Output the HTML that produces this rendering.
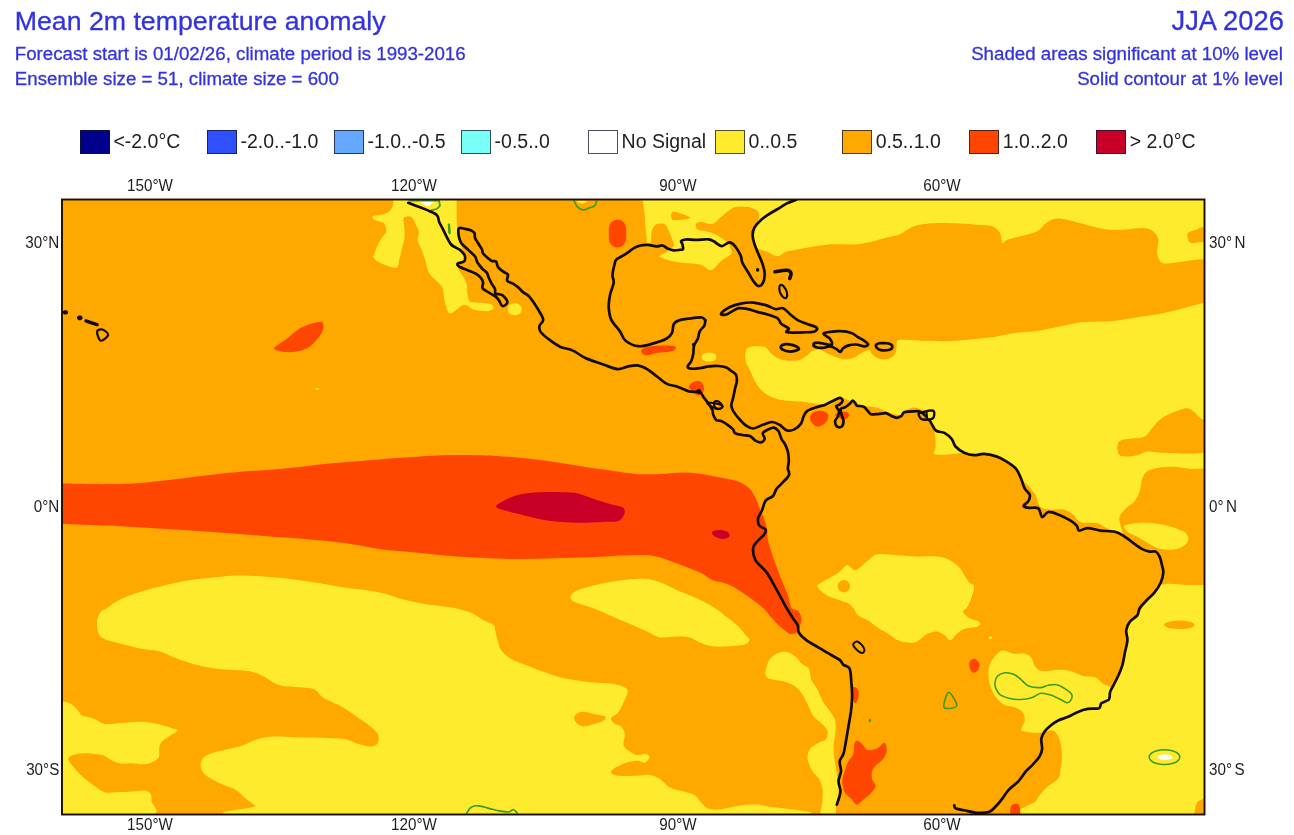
<!DOCTYPE html>
<html><head><meta charset="utf-8"><title>Mean 2m temperature anomaly</title>
<style>
html,body{margin:0;padding:0;background:#fff;}
body{width:1294px;height:835px;position:relative;overflow:hidden;font-family:"Liberation Sans",sans-serif;}
.t{position:absolute;color:#3232e0;white-space:nowrap;-webkit-text-stroke:0.3px #3232e0;}
.sw{position:absolute;top:129.6px;width:28px;height:22.6px;border:1px solid rgba(20,20,40,.75);box-sizing:content-box;}
.lt{position:absolute;top:128.7px;font-size:19.5px;line-height:24px;color:#1e1e1e;white-space:nowrap;}
.ax{position:absolute;font-size:16px;line-height:18px;transform:scaleX(0.95);color:#1e1e1e;white-space:nowrap;}
#wrap{position:absolute;left:0;top:0;width:1294px;height:835px;filter:blur(0.45px);}
</style></head><body><div id="wrap">
<div class="t" style="left:14.8px;top:5.2px;font-size:26.7px;line-height:32px">Mean 2m temperature anomaly</div>
<div class="t" style="left:14.8px;top:43.2px;font-size:18.7px;line-height:22px">Forecast start is 01/02/26, climate period is 1993-2016</div>
<div class="t" style="left:14.8px;top:68.2px;font-size:18.7px;line-height:22px">Ensemble size = 51, climate size = 600</div>
<div class="t" style="right:10.2px;top:5.0px;font-size:27.3px;line-height:32px">JJA 2026</div>
<div class="t" style="right:11.2px;top:42.9px;font-size:18.7px;line-height:22px">Shaded areas significant at 10% level</div>
<div class="t" style="right:11.2px;top:67.9px;font-size:18.7px;line-height:22px">Solid contour at 1% level</div>
<div class="sw" style="left:79.8px;background:#00008c"></div><div class="lt" style="left:113.4px">&lt;-2.0°C</div>
<div class="sw" style="left:206.8px;background:#3050ff"></div><div class="lt" style="left:240.4px">-2.0..-1.0</div>
<div class="sw" style="left:333.9px;background:#64a8ff"></div><div class="lt" style="left:367.5px">-1.0..-0.5</div>
<div class="sw" style="left:460.9px;background:#78fff8"></div><div class="lt" style="left:494.6px">-0.5..0</div>
<div class="sw" style="left:588.0px;background:#ffffff"></div><div class="lt" style="left:621.6px">No Signal</div>
<div class="sw" style="left:715.0px;background:#ffeb2d"></div><div class="lt" style="left:748.6px">0..0.5</div>
<div class="sw" style="left:842.1px;background:#ffa800"></div><div class="lt" style="left:875.7px">0.5..1.0</div>
<div class="sw" style="left:969.1px;background:#ff4600"></div><div class="lt" style="left:1002.8px">1.0..2.0</div>
<div class="sw" style="left:1096.2px;background:#c80028"></div><div class="lt" style="left:1129.8px">&gt; 2.0°C</div>
<div class="ax" style="left:110.3px;top:177.2px;width:80px;text-align:center;transform-origin:50% 50%">150°W</div>
<div class="ax" style="left:110.3px;top:816.4px;width:80px;text-align:center;transform-origin:50% 50%">150°W</div>
<div class="ax" style="left:374.1px;top:177.2px;width:80px;text-align:center;transform-origin:50% 50%">120°W</div>
<div class="ax" style="left:374.1px;top:816.4px;width:80px;text-align:center;transform-origin:50% 50%">120°W</div>
<div class="ax" style="left:637.9px;top:177.2px;width:80px;text-align:center;transform-origin:50% 50%">90°W</div>
<div class="ax" style="left:637.9px;top:816.4px;width:80px;text-align:center;transform-origin:50% 50%">90°W</div>
<div class="ax" style="left:901.7px;top:177.2px;width:80px;text-align:center;transform-origin:50% 50%">60°W</div>
<div class="ax" style="left:901.7px;top:816.4px;width:80px;text-align:center;transform-origin:50% 50%">60°W</div>
<div class="ax" style="left:0;width:59.3px;text-align:right;transform-origin:100% 50%;top:233.7px">30°N</div>
<div class="ax" style="left:1208.6px;transform-origin:0 50%;top:233.7px">30°<span style="margin-left:2.6px"></span>N</div>
<div class="ax" style="left:0;width:59.3px;text-align:right;transform-origin:100% 50%;top:497.5px">0°N</div>
<div class="ax" style="left:1208.6px;transform-origin:0 50%;top:497.5px">0°<span style="margin-left:2.6px"></span>N</div>
<div class="ax" style="left:0;width:59.3px;text-align:right;transform-origin:100% 50%;top:761.3px">30°S</div>
<div class="ax" style="left:1208.6px;transform-origin:0 50%;top:761.3px">30°<span style="margin-left:2.6px"></span>S</div>
<svg width="1294" height="835" viewBox="0 0 1294 835" style="position:absolute;left:0;top:0">
<defs><clipPath id="mapclip"><rect x="62.0" y="199.5" width="1142.5" height="615.0"/></clipPath></defs>
<g clip-path="url(#mapclip)">
<rect x="62.0" y="199.5" width="1142.5" height="615.0" fill="#ffa800"/>
<path d="M393.5,200.9C393.3,202.7 393.1,205.3 392.3,207.1C391.4,209.0 390.2,210.8 388.5,212.1C386.9,213.3 384.8,213.9 382.4,214.5C379.9,215.2 375.3,215.1 373.7,215.8C372.2,216.5 371.9,217.8 373.1,218.9C374.3,219.9 379.2,221.0 381.1,222.0C383.1,222.9 384.0,222.8 384.8,224.4C385.7,226.1 386.5,229.8 386.1,231.9C385.7,233.9 383.8,234.5 382.4,236.8C380.9,239.1 378.8,242.6 377.4,245.5C376.1,248.3 374.9,252.1 374.3,254.1C373.7,256.2 372.8,256.4 373.7,257.8C374.6,259.3 376.2,261.1 379.9,262.8C383.6,264.4 392.7,268.5 396.0,267.7C399.3,266.9 398.6,261.1 399.7,257.8C400.7,254.5 401.3,251.4 402.1,247.9C403.0,244.4 404.3,240.7 404.6,236.8C404.9,232.9 404.2,227.5 404.0,224.4C403.8,221.3 402.9,219.6 403.4,218.3C403.9,216.9 405.7,216.5 407.1,216.4C408.5,216.3 410.6,216.3 412.0,217.6C413.5,219.0 414.6,222.1 415.7,224.4C416.9,226.8 418.5,229.2 418.8,231.9C419.1,234.5 417.1,237.4 417.6,240.5C418.1,243.6 420.6,246.9 421.9,250.4C423.3,253.9 424.6,258.0 425.6,261.5C426.7,265.0 426.7,268.5 428.1,271.4C429.6,274.3 432.0,276.4 434.3,278.8C436.6,281.3 440.1,283.8 441.7,286.3C443.4,288.7 444.0,293.1 444.2,293.7C444.4,294.3 442.8,288.1 443.1,290.0C443.3,291.8 444.3,300.9 445.5,304.8C446.8,308.7 447.4,313.5 450.5,313.5C453.6,313.5 460.2,305.4 464.1,304.8C468.0,304.2 469.9,308.7 474.0,309.8C478.1,310.8 485.5,311.4 488.8,311.0C492.1,310.6 493.8,308.5 493.8,307.3C493.8,306.0 492.1,304.4 488.8,303.6C485.5,302.7 477.3,303.0 474.0,302.3C470.7,301.7 470.3,302.3 469.0,299.9C467.8,297.4 466.8,289.1 466.6,287.5C466.3,285.9 467.9,291.2 467.7,290.0C467.5,288.7 466.7,283.4 465.2,280.1C463.8,276.8 460.2,272.7 459.0,270.2C457.9,267.7 457.6,266.7 458.4,265.2C459.2,263.8 462.7,262.9 464.0,261.5C465.2,260.2 465.8,258.5 465.8,257.2C465.8,255.9 464.8,255.5 464.0,253.5C463.1,251.5 461.8,247.8 460.9,245.5C460.0,243.1 459.0,241.5 458.4,239.3C457.9,237.0 457.8,234.9 457.5,231.9C457.3,228.8 457.0,225.9 456.8,220.7C456.6,215.6 456.6,205.0 456.6,200.9C456.5,196.9 467.0,197.2 456.5,196.5C446.0,195.8 404.0,195.8 393.5,196.5C383.0,197.2 393.7,199.2 393.5,200.9Z" fill="#ffeb2d"/>
<path d="M521.8,309.3C521.8,310.3 521.4,311.4 520.9,312.3C520.3,313.2 519.3,314.0 518.3,314.5C517.3,315.0 516.0,315.3 514.8,315.3C513.6,315.3 512.3,315.0 511.3,314.5C510.3,314.0 509.3,313.2 508.7,312.3C508.2,311.4 507.8,310.3 507.8,309.3C507.8,308.3 508.2,307.2 508.7,306.3C509.3,305.4 510.3,304.6 511.3,304.1C512.3,303.6 513.6,303.3 514.8,303.3C516.0,303.3 517.3,303.6 518.3,304.1C519.3,304.6 520.3,305.4 520.9,306.3C521.4,307.2 521.8,308.3 521.8,309.3Z" fill="#ffeb2d"/>
<path d="M642.8,200.9C643.2,204.0 644.3,210.2 644.7,214.5C645.1,218.9 645.0,223.2 645.3,226.9C645.6,230.6 646.1,233.8 646.6,236.8C647.0,239.8 646.0,241.7 647.8,244.8C649.5,247.9 652.5,252.5 657.1,255.4C661.7,258.2 668.5,260.3 675.6,261.8C682.8,263.4 693.9,263.2 699.8,264.6C705.6,266.0 707.3,270.8 710.9,270.2C714.4,269.6 717.7,263.7 721.1,260.9C724.5,258.1 729.9,256.0 731.3,253.5C732.7,251.0 730.0,247.9 729.4,246.1C728.8,244.2 730.4,244.5 727.6,242.4C724.8,240.2 717.7,235.3 712.7,233.1C707.8,230.9 700.7,230.9 697.9,229.4C695.1,227.8 695.4,225.1 696.0,223.8C696.7,222.6 698.8,222.0 701.6,222.0C704.4,222.0 709.0,225.1 712.7,223.8C716.4,222.6 720.2,217.3 723.9,214.5C727.6,211.8 731.0,208.4 735.0,207.1C739.0,205.9 744.3,206.5 748.0,207.1C751.7,207.7 755.4,209.3 757.2,210.8C759.1,212.4 759.3,214.2 759.1,216.4C758.9,218.6 757.4,221.3 756.3,223.8C755.2,226.3 753.2,228.8 752.6,231.2C752.0,233.7 751.8,235.9 752.6,238.7C753.4,241.4 754.9,245.8 757.2,247.9C759.6,250.1 763.1,250.3 766.5,251.6C769.9,253.0 774.3,256.3 777.7,256.3C781.1,256.3 782.3,253.0 786.9,251.6C791.6,250.3 798.4,249.1 805.5,247.9C812.6,246.8 820.5,245.3 829.6,244.6C838.7,243.9 849.9,245.1 860.0,243.9C870.1,242.6 883.4,238.4 890.0,236.8C896.6,235.2 896.2,236.0 899.9,234.3C903.6,232.7 907.7,228.7 912.3,226.9C916.8,225.1 920.5,224.3 927.1,223.7C933.7,223.1 942.3,223.0 951.8,223.2C961.3,223.4 977.0,224.6 984.0,225.2C991.0,225.8 991.2,225.6 993.9,226.9C996.5,228.2 998.6,230.4 1000.0,233.1C1001.5,235.8 1001.1,242.0 1002.5,243.0C1004.0,244.0 1004.4,240.7 1008.7,239.3C1013.0,237.8 1023.5,235.8 1028.5,234.3C1033.4,232.9 1035.5,232.5 1038.4,230.6C1041.3,228.8 1042.9,225.2 1045.8,223.2C1048.7,221.2 1052.0,219.3 1055.7,218.8C1059.4,218.2 1062.7,218.9 1068.1,220.0C1073.4,221.1 1081.2,223.6 1087.8,225.2C1094.4,226.7 1101.0,228.7 1107.6,229.4C1114.2,230.1 1121.6,229.6 1127.4,229.4C1133.2,229.2 1138.1,227.9 1142.2,228.1C1146.4,228.4 1149.5,228.8 1152.1,230.6C1154.8,232.5 1157.5,235.6 1158.3,239.3C1159.1,243.0 1156.5,249.0 1157.1,252.9C1157.7,256.8 1159.1,261.1 1162.0,262.8C1164.9,264.4 1169.4,263.2 1174.4,262.8C1179.3,262.4 1186.7,260.9 1191.7,260.3C1196.7,259.7 1201.9,259.3 1204.6,259.1C1207.2,258.8 1207.0,269.4 1207.5,259.0C1208.0,248.6 1301.6,206.9 1207.5,196.5C1113.4,186.1 736.9,195.8 642.8,196.5C548.7,197.2 642.5,197.9 642.8,200.9Z" fill="#ffeb2d"/>
<path d="M745.2,354.3C745.5,352.1 746.0,350.8 748.0,349.7C750.0,348.6 754.2,348.0 757.2,347.8C760.3,347.7 764.0,347.7 766.5,348.7C769.0,349.8 769.9,352.6 772.1,354.3C774.3,356.0 776.4,357.9 779.5,358.9C782.6,360.0 787.2,360.6 790.6,360.8C794.0,361.0 797.1,360.8 799.9,359.9C802.7,358.9 805.2,356.8 807.3,355.2C809.5,353.7 810.7,351.5 812.9,350.6C815.1,349.7 817.8,349.1 820.3,349.7C822.9,350.2 825.4,352.5 828.2,353.8C831.1,355.1 834.7,356.6 837.5,357.5C840.3,358.4 842.1,359.4 844.9,359.4C847.7,359.4 851.4,358.6 854.2,357.5C857.0,356.4 859.1,354.1 861.6,352.9C864.1,351.6 867.3,349.9 869.0,350.1C870.7,350.2 870.6,352.6 871.8,353.8C873.0,355.0 874.4,356.6 876.4,357.5C878.5,358.4 881.4,359.4 883.9,359.4C886.3,359.4 889.3,358.7 891.3,357.5C893.3,356.3 895.0,354.4 895.9,351.9C896.8,349.5 896.4,344.7 896.8,342.7C897.3,340.6 896.5,340.3 898.7,339.9C900.9,339.4 904.9,339.7 909.8,339.9C914.8,340.0 922.2,340.6 928.4,340.8C934.6,341.0 940.7,341.3 946.9,341.2C953.1,341.0 959.3,340.4 965.5,339.9C971.7,339.4 977.8,338.6 984.0,338.0C990.2,337.4 1001.7,336.1 1002.6,336.2C1003.4,336.2 987.1,338.7 988.9,338.2C990.8,337.7 1005.4,334.5 1013.6,333.2C1021.9,332.0 1030.1,332.0 1038.4,330.8C1046.6,329.5 1055.7,327.3 1063.1,325.8C1070.5,324.4 1074.6,322.9 1082.9,322.1C1091.1,321.3 1103.5,321.7 1112.6,320.9C1121.6,320.1 1129.1,318.4 1137.3,317.2C1145.5,315.9 1153.8,315.1 1162.0,313.5C1170.3,311.8 1179.7,309.1 1186.8,307.3C1193.8,305.4 1201.1,303.6 1204.6,302.3C1208.0,301.1 1207.0,214.1 1207.5,300.0C1208.0,385.9 1237.1,731.5 1207.5,817.5C1177.9,903.5 1058.3,818.5 1029.7,815.7C1001.1,813.0 1034.0,804.6 1035.9,800.9C1037.8,797.2 1038.8,795.9 1040.9,793.5C1042.9,791.0 1045.4,788.5 1048.3,786.1C1051.2,783.6 1056.1,781.5 1058.2,778.6C1060.2,775.7 1060.0,772.9 1060.6,768.7C1061.3,764.6 1062.1,758.9 1061.9,753.9C1061.7,749.0 1060.8,743.0 1059.4,739.1C1058.0,735.2 1055.7,731.6 1053.2,730.4C1050.7,729.2 1045.0,732.5 1044.6,731.6C1044.1,730.8 1048.5,727.3 1050.7,725.5C1053.0,723.6 1055.3,722.0 1058.2,720.5C1061.0,719.1 1064.8,718.3 1068.1,716.8C1071.3,715.4 1074.6,713.2 1077.9,711.9C1081.2,710.5 1084.3,709.5 1087.8,708.9C1091.3,708.3 1096.7,709.1 1099.0,708.2C1101.2,707.2 1099.8,704.7 1101.4,703.2C1103.1,701.8 1107.4,701.4 1108.9,699.5C1110.3,697.6 1109.3,694.6 1110.1,692.1C1110.9,689.6 1112.4,687.5 1113.8,684.7C1115.2,681.8 1117.3,678.1 1118.7,674.8C1120.2,671.5 1121.4,668.6 1122.5,664.9C1123.5,661.2 1124.1,656.6 1124.9,652.5C1125.8,648.4 1127.2,643.9 1127.4,640.1C1127.6,636.4 1125.8,633.3 1126.2,630.3C1126.6,627.2 1128.0,624.1 1129.9,621.6C1131.7,619.1 1135.2,617.7 1137.3,615.4C1139.4,613.2 1140.6,610.6 1142.2,608.0C1143.9,605.4 1145.1,602.4 1147.2,599.8C1149.2,597.2 1152.3,595.3 1154.6,592.4C1156.9,589.5 1159.3,585.8 1160.8,582.5C1162.2,579.2 1163.1,575.5 1163.3,572.6C1163.5,569.7 1162.6,567.9 1162.0,565.2C1161.4,562.5 1160.6,558.8 1159.6,556.6C1158.5,554.3 1157.5,552.4 1155.8,551.6C1154.2,550.8 1151.9,552.0 1149.7,551.6C1147.4,551.2 1144.7,550.4 1142.2,549.1C1139.8,547.9 1137.7,546.3 1134.8,544.2C1131.9,542.1 1128.2,539.0 1124.9,536.8C1121.6,534.6 1118.1,532.5 1115.0,531.1C1111.9,529.6 1109.3,529.4 1106.4,528.1C1103.5,526.8 1102.1,524.2 1097.7,523.2C1093.4,522.1 1084.5,523.4 1080.4,521.9C1076.3,520.5 1075.9,516.6 1073.0,514.5C1070.1,512.5 1067.2,510.4 1063.1,509.6C1059.0,508.7 1052.2,510.2 1048.3,509.6C1044.4,509.0 1041.7,508.1 1039.6,505.9C1037.6,503.6 1037.8,499.3 1035.9,496.0C1034.0,492.7 1031.0,489.0 1028.5,486.1C1026.0,483.2 1023.1,481.5 1021.1,478.7C1019.0,475.8 1018.6,471.7 1016.1,468.8C1013.6,465.9 1009.5,463.4 1006.2,461.4C1002.9,459.3 1000.0,457.6 996.3,456.4C992.6,455.2 987.7,454.1 984.0,453.9C980.3,453.7 977.4,455.4 974.1,455.2C970.8,455.0 968.3,452.8 964.2,452.7C960.1,452.6 954.3,454.2 949.4,454.4C944.4,454.6 936.8,455.3 934.5,453.9C932.2,452.6 935.7,450.2 935.7,446.5C935.7,442.8 935.5,436.0 934.5,431.7C933.5,427.3 929.7,423.9 929.6,420.5C929.5,417.1 934.1,413.0 933.9,411.3C933.7,409.6 930.5,410.7 928.4,410.4C926.2,410.0 923.4,409.9 921.0,409.4C918.5,409.0 916.0,407.4 913.5,407.6C911.1,407.7 908.6,409.1 906.1,410.4C903.6,411.6 902.1,414.8 898.7,415.0C895.3,415.1 889.4,412.5 885.7,411.3C882.0,410.0 880.2,408.5 876.4,407.6C872.7,406.6 867.2,406.5 863.5,405.7C859.8,404.9 857.6,404.2 854.2,402.9C850.8,401.7 846.2,398.6 843.1,398.3C840.0,398.0 838.1,399.8 835.6,401.1C833.2,402.3 831.3,405.3 828.2,405.7C825.1,406.2 822.0,404.6 817.1,403.9C812.1,403.1 800.5,401.5 798.5,401.1C796.6,400.7 807.4,401.7 805.5,401.6C803.5,401.5 792.2,401.3 786.9,400.7C781.7,400.1 778.0,399.4 773.9,397.9C769.9,396.4 765.9,394.0 762.8,391.4C759.7,388.8 757.4,385.4 755.4,382.1C753.4,378.9 752.3,375.2 750.8,371.9C749.2,368.7 747.0,365.6 746.1,362.7C745.2,359.7 744.9,356.5 745.2,354.3Z" fill="#ffeb2d"/>
<path d="M817.5,586.2C817.1,584.0 820.1,583.6 823.6,581.3C827.2,579.0 834.6,575.3 838.5,572.6C842.4,570.0 844.3,565.6 847.1,565.2C850.0,564.8 852.3,571.0 855.8,570.2C859.3,569.3 864.5,562.9 868.2,560.3C871.9,557.6 873.1,554.9 878.1,554.1C883.0,553.3 891.7,554.9 897.8,555.3C904.0,555.7 908.6,556.4 915.1,556.6C921.7,556.8 931.6,555.9 937.4,556.6C943.2,557.2 946.1,558.4 949.8,560.3C953.5,562.1 957.3,565.2 959.7,567.7C962.1,570.2 962.6,572.6 964.2,575.1C965.8,577.6 967.5,580.7 969.1,582.5C970.8,584.4 973.7,583.8 974.1,586.2C974.5,588.7 972.8,593.7 971.6,597.4C970.4,601.0 968.1,605.6 966.7,608.0C965.2,610.4 962.5,610.1 963.0,611.7C963.4,613.4 966.5,616.2 969.1,617.9C971.8,619.5 977.6,620.2 979.0,621.6C980.5,623.0 980.3,625.3 977.8,626.5C975.3,627.8 967.7,627.8 964.2,629.0C960.7,630.3 959.0,632.1 956.8,634.0C954.5,635.8 952.6,639.9 950.6,640.1C948.5,640.4 946.7,636.6 944.4,635.2C942.1,633.8 939.9,631.7 937.0,631.5C934.1,631.3 930.4,632.3 927.1,634.0C923.8,635.6 920.5,639.9 917.2,641.4C913.9,642.8 910.6,642.8 907.3,642.6C904.0,642.4 900.2,641.4 897.4,640.1C894.6,638.9 893.6,637.3 890.4,635.2C887.2,633.1 881.8,630.3 878.1,627.8C874.3,625.3 871.5,622.4 868.2,620.4C864.9,618.3 860.7,617.5 858.3,615.4C855.8,613.4 855.0,610.0 853.3,608.0C851.7,606.0 850.9,604.9 848.4,603.5C845.9,602.2 842.2,601.3 838.5,599.8C834.8,598.4 829.6,597.2 826.1,594.9C822.6,592.6 817.9,588.5 817.5,586.2Z" fill="#ffeb2d"/>
<path d="M765.5,671.1C765.9,668.2 767.4,662.8 769.2,659.9C771.1,657.0 773.8,655.1 776.7,653.7C779.5,652.4 783.3,651.4 786.6,652.0C789.9,652.6 794.0,655.5 796.4,657.5C798.9,659.4 799.3,661.8 801.4,663.6C803.5,665.5 807.2,665.9 808.8,668.6C810.5,671.3 809.8,676.2 811.3,679.7C812.7,683.2 815.6,686.1 817.5,689.6C819.3,693.1 820.6,697.4 822.4,700.7C824.3,704.0 826.5,706.3 828.6,709.4C830.7,712.5 833.6,715.6 834.8,719.3C835.9,723.0 835.7,727.1 835.5,731.6C835.3,736.2 833.7,741.5 833.5,746.5C833.4,751.4 834.2,756.4 834.8,761.3C835.4,766.3 836.6,771.2 837.2,776.2C837.9,781.1 838.7,786.1 838.5,791.0C838.3,795.9 836.6,801.7 836.0,805.8C835.4,810.0 837.2,814.1 834.8,815.7C832.3,817.4 823.2,818.2 821.2,815.7C819.1,813.3 822.2,805.4 822.4,800.9C822.6,796.4 823.0,792.2 822.4,788.5C821.8,784.8 820.4,781.5 818.7,778.6C817.1,775.7 814.4,774.5 812.5,771.2C810.7,767.9 808.0,762.6 807.6,758.9C807.2,755.1 808.2,751.6 810.0,749.0C811.9,746.3 816.0,744.4 818.7,742.8C821.4,741.1 824.7,741.1 826.1,739.1C827.6,737.0 828.2,733.1 827.4,730.4C826.5,727.7 823.4,725.3 821.2,723.0C818.9,720.7 815.8,719.5 813.8,716.8C811.7,714.1 810.5,710.2 808.8,706.9C807.2,703.6 805.7,700.1 803.9,697.0C802.0,693.9 800.6,690.8 797.7,688.4C794.8,685.9 790.5,683.6 786.6,682.2C782.6,680.7 777.5,680.5 774.2,679.7C770.9,678.9 768.2,678.7 766.8,677.2C765.3,675.8 765.1,673.9 765.5,671.1Z" fill="#ffeb2d"/>
<path d="M107.0,608.0C110.5,605.8 115.2,601.6 121.8,598.6C128.4,595.6 136.2,592.8 146.6,589.9C156.9,587.1 173.3,583.3 183.6,581.3C194.0,579.3 199.3,579.0 208.4,578.1C217.4,577.1 227.7,575.8 238.1,575.6C248.4,575.4 258.7,576.1 270.2,577.1C281.7,578.0 294.9,579.6 307.3,581.3C319.7,583.0 332.3,585.6 344.4,587.5C356.5,589.3 369.9,590.4 380.0,592.4C390.1,594.5 396.5,597.8 404.7,599.8C413.0,601.9 421.2,603.4 429.5,604.8C437.7,606.1 447.2,606.6 454.2,608.0C461.2,609.4 466.6,610.9 471.5,612.9C476.4,615.0 480.2,618.3 483.9,620.4C487.6,622.4 491.7,622.8 493.8,625.3C495.8,627.8 495.0,631.1 496.2,635.2C497.5,639.3 498.7,646.1 501.2,650.0C503.6,654.0 506.5,656.0 511.1,658.7C515.6,661.4 522.2,663.6 528.4,666.1C534.6,668.6 542.0,671.5 548.2,673.5C554.3,675.6 558.5,677.0 565.5,678.5C572.5,679.9 582.0,681.2 590.2,682.2C598.4,683.1 608.7,682.9 614.9,684.2C621.1,685.4 625.6,687.1 627.3,689.6C628.9,692.2 626.3,695.8 624.8,699.5C623.4,703.2 620.9,708.8 618.6,711.9C616.4,715.0 612.0,716.2 611.2,718.0C610.4,719.9 612.0,721.5 613.7,723.0C615.3,724.4 619.3,724.8 621.1,726.7C623.0,728.6 624.4,731.0 624.8,734.1C625.2,737.2 622.8,742.4 623.6,745.2C624.4,748.1 627.5,749.8 629.8,751.4C632.0,753.1 634.5,754.7 637.2,755.1C639.9,755.6 643.8,753.5 645.8,753.9C647.9,754.3 649.8,756.2 649.6,757.6C649.3,759.1 646.7,762.0 644.6,762.6C642.5,763.1 640.5,760.7 637.2,760.8C633.9,761.0 628.7,762.0 624.8,763.3C620.9,764.6 616.0,767.2 613.7,768.7C611.4,770.3 610.6,771.3 611.2,772.5C611.8,773.6 613.1,775.1 617.4,775.7C621.7,776.2 631.8,775.8 637.2,775.7C642.5,775.5 645.8,774.4 649.6,774.9C653.3,775.4 656.1,776.6 659.4,778.6C662.7,780.7 665.6,785.2 669.3,787.3C673.0,789.3 677.6,789.8 681.7,791.0C685.8,792.2 691.0,793.1 694.1,794.7C697.1,796.4 697.8,798.6 700.0,800.9C702.2,803.2 704.1,806.9 707.4,808.3C710.7,809.8 715.7,809.8 719.8,809.5C723.9,809.3 727.2,807.9 732.1,807.1C737.1,806.2 744.1,804.8 749.5,804.6C754.8,804.4 759.8,804.0 764.3,805.8C768.8,807.7 860.2,814.1 776.7,815.7C693.1,817.4 349.7,817.4 262.8,815.7C175.9,814.1 258.2,808.7 255.4,805.8C252.5,803.0 248.8,801.1 245.5,798.4C242.2,795.7 239.3,792.0 235.6,789.8C231.9,787.5 227.3,786.7 223.2,784.8C219.1,783.0 214.4,780.9 210.9,778.6C207.3,776.4 203.8,773.9 202.2,771.2C200.5,768.5 200.5,765.0 201.0,762.6C201.4,760.1 202.6,758.0 204.7,756.4C206.7,754.7 209.4,753.9 213.3,752.7C217.2,751.4 223.2,750.2 228.2,749.0C233.1,747.7 238.1,746.9 243.0,745.2C247.9,743.6 252.5,740.5 257.8,739.1C263.2,737.6 269.0,736.9 275.1,736.6C281.3,736.3 287.5,737.1 294.9,737.3C302.3,737.5 311.4,737.5 319.7,737.8C327.9,738.1 338.2,738.1 344.4,739.1C350.6,740.0 352.2,742.3 356.8,743.5C361.3,744.8 368.1,746.6 371.6,746.5C375.1,746.4 376.7,744.8 377.8,742.8C378.8,740.7 379.2,737.0 377.8,734.1C376.3,731.2 372.6,728.4 369.1,725.5C365.6,722.6 360.9,719.7 356.8,716.8C352.6,713.9 348.5,710.6 344.4,708.2C340.3,705.7 335.7,703.8 332.0,702.0C328.3,700.1 325.0,699.1 322.1,697.0C319.2,695.0 318.0,691.2 314.7,689.6C311.4,688.0 306.9,688.1 302.3,687.6C297.8,687.1 292.0,687.3 287.5,686.6C283.0,685.9 279.3,685.2 275.1,683.4C271.0,681.7 267.3,678.1 262.8,676.0C258.2,673.9 253.7,672.1 247.9,671.1C242.2,670.0 234.8,670.4 228.2,669.8C221.6,669.2 215.0,668.6 208.4,667.4C201.8,666.1 194.8,664.3 188.6,662.4C182.4,660.6 176.2,658.1 171.3,656.2C166.3,654.4 163.9,652.5 158.9,651.3C154.0,650.0 147.8,650.0 141.6,648.8C135.4,647.6 128.0,645.5 121.8,643.9C115.6,642.2 108.4,640.8 104.5,638.9C100.6,637.1 99.6,635.8 98.3,632.7C97.1,629.6 96.7,623.9 97.1,620.4C97.5,616.9 99.2,613.8 100.8,611.7C102.5,609.6 103.5,610.2 107.0,608.0Z" fill="#ffeb2d"/>
<path d="M57.5,700.7C58.4,681.7 60.4,701.1 62.5,701.5C64.5,701.9 67.4,701.9 69.9,703.2C72.4,704.5 75.2,707.3 77.3,709.4C79.4,711.5 79.8,714.1 82.3,715.6C84.7,717.0 88.4,716.7 92.1,718.0C95.9,719.4 99.6,722.9 104.5,723.7C109.5,724.6 115.6,723.3 121.8,723.0C128.0,722.7 135.4,721.5 141.6,721.8C147.8,722.0 154.0,723.2 158.9,724.2C163.9,725.3 168.2,726.9 171.3,727.9C174.4,729.0 177.9,729.0 177.5,730.4C177.1,731.9 171.7,734.3 168.8,736.6C165.9,738.9 161.8,740.7 160.2,744.0C158.5,747.3 159.9,753.5 158.9,756.4C157.9,759.3 156.4,760.0 154.0,761.3C151.5,762.6 147.8,764.0 144.1,764.3C140.4,764.6 135.8,763.5 131.7,763.3C127.6,763.1 123.1,764.0 119.4,763.3C115.6,762.6 112.3,760.2 109.5,758.9C106.6,757.5 105.3,756.0 102.0,755.1C98.7,754.2 93.8,753.6 89.7,753.4C85.6,753.2 80.6,753.4 77.3,753.9C74.0,754.4 71.3,755.3 69.9,756.4C68.4,757.4 67.8,758.0 68.7,760.1C69.5,762.1 72.2,765.7 74.8,768.7C77.5,771.8 81.4,775.7 84.7,778.6C88.0,781.5 91.3,783.8 94.6,786.1C97.9,788.3 100.8,791.2 104.5,792.2C108.2,793.3 112.3,792.4 116.9,792.2C121.4,792.1 127.2,791.8 131.7,791.5C136.2,791.2 141.0,790.2 144.1,790.5C147.2,790.8 149.0,791.7 150.3,793.5C151.5,795.2 151.7,797.2 151.5,800.9C151.3,804.6 164.7,813.3 149.0,815.7C133.4,818.2 72.8,834.9 57.5,815.7C42.3,796.6 56.7,719.8 57.5,700.7Z" fill="#ffeb2d"/>
<path d="M570.4,597.4C570.4,595.5 572.1,593.0 575.4,591.2C578.7,589.3 583.6,587.9 590.2,586.2C596.8,584.6 606.7,582.5 614.9,581.3C623.2,580.1 632.7,578.8 639.7,578.8C646.7,578.8 650.8,579.4 657.0,581.3C663.2,583.1 669.6,586.9 676.8,589.9C683.9,593.0 693.7,596.8 700.0,599.8C706.3,602.8 710.7,605.4 714.8,608.0C719.0,610.6 721.0,612.5 724.7,615.4C728.4,618.3 733.6,622.0 737.1,625.3C740.6,628.6 743.7,632.7 745.7,635.2C747.8,637.7 749.7,638.6 749.5,640.1C749.3,641.7 747.8,643.6 744.5,644.6C741.2,645.6 735.0,646.0 729.7,646.3C724.3,646.6 717.3,646.9 712.4,646.3C707.4,645.7 703.9,644.1 700.0,642.6C696.1,641.1 693.0,638.2 689.1,637.2C685.2,636.2 681.7,636.4 676.8,636.4C671.8,636.4 664.4,638.0 659.4,637.2C654.5,636.4 652.4,633.9 647.1,631.5C641.7,629.1 633.5,625.5 627.3,622.8C621.1,620.2 615.8,617.9 610.0,615.4C604.2,612.9 598.4,610.2 592.7,608.0C586.9,605.8 579.1,604.1 575.4,602.3C571.7,600.5 570.4,599.2 570.4,597.4Z" fill="#ffeb2d"/>
<path d="M988.9,667.4C989.7,663.6 991.6,660.3 993.9,657.5C996.1,654.7 999.2,651.2 1002.5,650.5C1005.8,649.9 1009.9,653.2 1013.6,653.7C1017.4,654.3 1021.9,653.1 1024.8,653.7C1027.7,654.4 1029.1,655.2 1031.0,657.5C1032.8,659.7 1033.8,665.1 1035.9,667.4C1038.0,669.6 1039.6,670.6 1043.3,671.1C1047.0,671.5 1053.6,669.8 1058.2,669.8C1062.7,669.8 1066.4,670.0 1070.5,671.1C1074.6,672.1 1078.8,675.0 1082.9,676.0C1087.0,677.0 1092.0,676.0 1095.3,677.2C1098.6,678.5 1100.0,681.6 1102.7,683.4C1105.4,685.3 1110.3,685.7 1111.3,688.4C1112.4,691.0 1110.5,697.0 1108.9,699.5C1107.2,702.0 1103.1,701.8 1101.4,703.2C1099.8,704.7 1101.2,707.2 1099.0,708.2C1096.7,709.1 1091.3,708.3 1087.8,708.9C1084.3,709.5 1081.2,710.5 1077.9,711.9C1074.6,713.2 1071.3,715.4 1068.1,716.8C1064.8,718.3 1061.0,719.1 1058.2,720.5C1055.3,722.0 1053.0,723.6 1050.7,725.5C1048.5,727.3 1047.0,730.4 1044.6,731.6C1042.1,732.9 1039.2,732.9 1035.9,732.9C1032.6,732.9 1027.2,732.3 1024.8,731.6C1022.3,731.0 1021.1,731.0 1021.1,729.2C1021.1,727.3 1024.6,723.4 1024.8,720.5C1025.0,717.6 1024.2,714.1 1022.3,711.9C1020.4,709.6 1016.3,707.9 1013.6,706.9C1011.0,705.9 1008.7,706.7 1006.2,705.7C1003.8,704.7 1001.1,703.0 998.8,700.7C996.5,698.5 994.3,695.6 992.6,692.1C991.0,688.6 989.5,683.8 988.9,679.7C988.3,675.6 988.1,671.1 988.9,667.4Z" fill="#ffeb2d"/>
<path d="M716.4,357.1C716.4,357.9 716.1,358.7 715.5,359.4C714.8,360.1 713.8,360.7 712.7,361.1C711.7,361.5 710.3,361.7 709.0,361.7C707.8,361.7 706.4,361.5 705.3,361.1C704.2,360.7 703.2,360.1 702.6,359.4C702.0,358.7 701.6,357.9 701.6,357.1C701.6,356.3 702.0,355.4 702.6,354.8C703.2,354.1 704.2,353.5 705.3,353.1C706.4,352.7 707.8,352.5 709.0,352.5C710.3,352.5 711.7,352.7 712.7,353.1C713.8,353.5 714.8,354.1 715.5,354.8C716.1,355.4 716.4,356.3 716.4,357.1Z" fill="#ffeb2d"/>
<path d="M768.0,350.0C768.0,350.7 767.4,351.4 766.5,352.0C765.6,352.6 764.1,353.1 762.5,353.5C760.9,353.8 758.8,354.0 757.0,354.0C755.2,354.0 753.1,353.8 751.5,353.5C749.9,353.1 748.4,352.6 747.5,352.0C746.6,351.4 746.0,350.7 746.0,350.0C746.0,349.3 746.6,348.6 747.5,348.0C748.4,347.4 749.9,346.9 751.5,346.5C753.1,346.2 755.2,346.0 757.0,346.0C758.8,346.0 760.9,346.2 762.5,346.5C764.1,346.9 765.6,347.4 766.5,348.0C767.4,348.6 768.0,349.3 768.0,350.0Z" fill="#ffeb2d"/>
<path d="M991.8,637.7C991.8,638.0 991.7,638.2 991.6,638.5C991.5,638.7 991.3,638.9 991.0,639.0C990.8,639.1 990.5,639.2 990.3,639.2C990.0,639.2 989.8,639.1 989.5,639.0C989.3,638.9 989.1,638.7 989.0,638.5C988.9,638.2 988.8,638.0 988.8,637.7C988.8,637.5 988.9,637.2 989.0,637.0C989.1,636.7 989.3,636.5 989.5,636.4C989.8,636.3 990.0,636.2 990.3,636.2C990.5,636.2 990.8,636.3 991.0,636.4C991.3,636.5 991.5,636.7 991.6,637.0C991.7,637.2 991.8,637.5 991.8,637.7Z" fill="#ffeb2d"/>
<path d="M319.2,388.9C319.2,389.1 319.1,389.3 318.9,389.4C318.8,389.5 318.5,389.7 318.2,389.8C317.9,389.8 317.5,389.9 317.2,389.9C316.9,389.9 316.5,389.8 316.2,389.8C315.9,389.7 315.6,389.5 315.5,389.4C315.3,389.3 315.2,389.1 315.2,388.9C315.2,388.7 315.3,388.5 315.5,388.4C315.6,388.3 315.9,388.1 316.2,388.0C316.5,388.0 316.9,387.9 317.2,387.9C317.5,387.9 317.9,388.0 318.2,388.0C318.5,388.1 318.8,388.3 318.9,388.4C319.1,388.5 319.2,388.7 319.2,388.9Z" fill="#ffeb2d"/>
<path d="M650.9,241.7C651.5,239.7 651.0,235.7 651.5,233.1C652.0,230.5 652.7,227.8 654.0,226.3C655.2,224.7 657.1,224.1 658.9,223.8C660.8,223.5 663.6,223.5 665.1,224.4C666.6,225.4 667.3,227.5 668.2,229.4C669.1,231.2 669.8,233.5 670.7,235.6C671.5,237.6 672.6,240.1 673.1,241.7C673.7,243.4 674.5,244.0 673.8,245.5C673.0,246.9 670.7,249.0 668.8,250.4C667.0,251.8 664.7,253.1 662.6,254.1C660.6,255.1 658.9,258.0 656.4,256.6C654.0,255.1 648.7,247.9 647.8,245.5C646.9,243.0 650.3,243.8 650.9,241.7Z" fill="#ffa800"/>
<path d="M671.3,213.9C671.7,212.9 672.3,211.6 673.8,211.5C675.2,211.4 677.5,212.5 679.9,213.3C682.4,214.1 686.9,215.6 688.6,216.4C690.2,217.2 690.9,217.7 689.8,218.3C688.8,218.8 685.1,219.2 682.4,219.5C679.7,219.8 675.6,220.4 673.8,220.1C671.9,219.8 671.7,218.7 671.3,217.6C670.9,216.6 670.9,215.0 671.3,213.9Z" fill="#ffa800"/>
<path d="M850.1,586.2C850.1,587.3 849.8,588.4 849.3,589.3C848.8,590.2 847.9,591.1 847.0,591.6C846.1,592.1 845.0,592.4 843.9,592.4C842.9,592.4 841.7,592.1 840.8,591.6C839.9,591.1 839.1,590.2 838.6,589.3C838.1,588.4 837.7,587.3 837.7,586.2C837.7,585.2 838.1,584.0 838.6,583.1C839.1,582.3 839.9,581.4 840.8,580.9C841.7,580.4 842.9,580.1 843.9,580.1C845.0,580.1 846.1,580.4 847.0,580.9C847.9,581.4 848.8,582.3 849.3,583.1C849.8,584.0 850.1,585.2 850.1,586.2Z" fill="#ffa800"/>
<path d="M574.1,718.0C574.1,716.2 576.0,714.1 577.8,713.1C579.7,712.1 582.4,711.7 585.3,711.9C588.1,712.1 591.8,713.6 595.1,714.3C598.4,715.1 603.6,715.3 605.0,716.3C606.5,717.3 605.5,719.3 603.8,720.5C602.2,721.8 598.2,722.8 595.1,723.7C592.1,724.7 588.1,726.1 585.3,726.2C582.4,726.3 579.7,725.6 577.8,724.2C576.0,722.9 574.1,719.9 574.1,718.0Z" fill="#ffa800"/>
<path d="M1117.5,445.3C1117.9,443.0 1118.7,441.4 1121.2,440.3C1123.7,439.2 1128.4,439.2 1132.3,438.6C1136.3,438.0 1141.4,438.4 1144.7,436.6C1148.0,434.8 1149.2,431.1 1152.1,428.0C1155.0,424.9 1158.3,420.8 1162.0,418.1C1165.7,415.4 1170.3,413.5 1174.4,411.9C1178.5,410.2 1183.5,408.2 1186.8,408.2C1190.1,408.2 1191.2,410.0 1194.2,411.9C1197.1,413.8 1197.6,418.2 1204.6,419.8C1211.6,421.5 1230.9,416.3 1236.2,421.8C1241.5,427.3 1241.5,447.5 1236.2,452.7C1230.9,457.9 1212.8,452.8 1204.6,452.9C1196.3,453.1 1193.8,453.5 1186.8,453.4C1179.7,453.4 1168.6,453.0 1162.0,452.7C1155.4,452.4 1151.3,451.0 1147.2,451.5C1143.1,451.9 1141.0,454.3 1137.3,455.2C1133.6,456.0 1128.0,456.6 1124.9,456.4C1121.8,456.2 1120.0,455.8 1118.7,453.9C1117.5,452.1 1117.1,447.5 1117.5,445.3Z" fill="#ffa800"/>
<path d="M1124.9,536.8C1122.5,533.3 1120.8,526.7 1120.0,523.2C1119.2,519.7 1118.7,518.4 1120.0,515.8C1121.2,513.1 1124.9,509.6 1127.4,507.1C1129.9,504.6 1132.8,503.6 1134.8,500.9C1136.9,498.2 1138.5,494.7 1139.8,491.0C1141.0,487.3 1141.0,482.0 1142.2,478.7C1143.5,475.4 1144.3,473.1 1147.2,471.2C1150.1,469.4 1155.0,468.3 1159.6,467.5C1164.1,466.8 1169.4,466.6 1174.4,466.8C1179.3,467.0 1184.2,468.4 1189.2,468.8C1194.3,469.1 1196.7,468.8 1204.6,468.8C1212.4,468.8 1230.9,449.4 1236.2,468.8C1241.5,488.1 1241.5,565.6 1236.2,585.0C1230.9,604.4 1212.8,585.0 1204.6,585.0C1196.3,585.0 1192.6,585.2 1186.8,585.0C1180.9,584.8 1173.8,584.0 1169.4,583.8C1165.1,583.6 1161.8,585.6 1160.8,583.8C1159.8,581.9 1163.1,575.7 1163.3,572.6C1163.5,569.5 1162.6,567.9 1162.0,565.2C1161.4,562.5 1160.6,558.8 1159.6,556.6C1158.5,554.3 1157.5,552.4 1155.8,551.6C1154.2,550.8 1151.9,552.0 1149.7,551.6C1147.4,551.2 1144.7,550.4 1142.2,549.1C1139.8,547.9 1137.7,546.3 1134.8,544.2C1131.9,542.1 1127.4,540.3 1124.9,536.8Z" fill="#ffa800"/>
<path d="M1124.9,525.6C1127.4,524.1 1136.1,522.9 1142.2,522.7C1148.4,522.5 1155.4,523.1 1162.0,524.4C1168.6,525.7 1177.5,528.5 1181.8,530.6C1186.1,532.7 1187.2,534.7 1188.0,536.8C1188.8,538.8 1188.6,540.9 1186.8,543.0C1184.9,545.0 1181.0,548.1 1176.9,549.1C1172.7,550.2 1166.1,549.8 1162.0,549.1C1157.9,548.5 1156.3,547.5 1152.1,545.4C1148.0,543.4 1141.4,539.0 1137.3,536.8C1133.2,534.5 1129.5,533.7 1127.4,531.8C1125.3,530.0 1122.5,527.2 1124.9,525.6Z" fill="#ffeb2d"/>
<path d="M1188.0,233.1C1189.4,231.4 1193.9,230.4 1196.6,229.4C1199.4,228.4 1198.0,227.5 1204.6,226.9C1211.2,226.3 1230.9,223.2 1236.2,225.7C1241.5,228.1 1241.5,239.1 1236.2,241.7C1230.9,244.4 1212.0,241.5 1204.6,241.7C1197.1,242.0 1194.5,243.4 1191.7,243.0C1188.9,242.6 1188.6,240.9 1188.0,239.3C1187.4,237.6 1186.5,234.7 1188.0,233.1Z" fill="#ffa800"/>
<path d="M1194.7,624.8C1194.7,625.5 1193.9,626.3 1192.6,626.9C1191.3,627.5 1189.2,628.1 1187.0,628.5C1184.8,628.8 1181.9,629.0 1179.3,629.0C1176.8,629.0 1173.9,628.8 1171.7,628.5C1169.5,628.1 1167.3,627.5 1166.1,626.9C1164.8,626.3 1164.0,625.5 1164.0,624.8C1164.0,624.1 1164.8,623.3 1166.1,622.7C1167.3,622.1 1169.5,621.5 1171.7,621.2C1173.9,620.8 1176.8,620.6 1179.3,620.6C1181.9,620.6 1184.8,620.8 1187.0,621.2C1189.2,621.5 1191.3,622.1 1192.6,622.7C1193.9,623.3 1194.7,624.1 1194.7,624.8Z" fill="#ffa800"/>
<path d="M1195.4,815.7C1193.3,813.7 1195.6,806.0 1196.6,803.4C1197.7,800.7 1199.5,800.6 1201.6,799.7C1203.7,798.7 1207.8,795.2 1209.0,797.9C1210.2,800.6 1211.3,812.8 1209.0,815.7C1206.7,818.7 1197.5,817.8 1195.4,815.7Z" fill="#ffa800"/>
<path d="M57.5,483.6C58.4,476.9 53.8,483.5 62.5,483.6C71.1,483.7 95.4,484.3 109.5,484.1C123.5,483.9 134.2,483.4 146.6,482.4C158.9,481.4 169.2,479.8 183.6,478.2C198.1,476.5 216.6,474.0 233.1,472.5C249.6,470.9 266.1,470.3 282.6,468.8C299.1,467.2 315.8,464.9 332.0,463.3C348.3,461.8 367.9,460.3 380.0,459.4C392.1,458.4 394.4,458.3 404.7,457.6C415.0,456.9 429.5,455.6 441.8,455.2C454.2,454.8 468.6,455.0 478.9,455.2C489.2,455.4 493.3,455.6 503.6,456.4C514.0,457.2 528.4,458.5 540.7,460.1C553.1,461.7 565.5,463.9 577.8,465.8C590.2,467.7 604.6,469.8 614.9,471.2C625.2,472.6 631.4,473.8 639.7,474.2C647.9,474.6 657.4,474.0 664.4,473.7C671.4,473.4 675.8,472.5 681.7,472.5C687.6,472.5 693.7,472.9 700.0,473.7C706.3,474.5 713.6,476.2 719.8,477.4C726.0,478.7 732.1,479.3 737.1,481.1C742.0,483.0 746.2,485.3 749.5,488.6C752.8,491.9 755.0,497.2 756.9,500.9C758.7,504.6 759.3,507.5 760.6,510.8C761.9,514.1 763.7,517.4 764.8,520.7C765.9,524.0 766.7,527.3 767.3,530.6C767.8,533.9 766.9,535.5 768.0,540.5C769.2,545.4 771.9,553.7 774.2,560.3C776.5,566.9 779.3,574.3 781.6,580.1C783.9,585.8 786.1,590.2 787.8,594.9C789.4,599.5 789.9,605.4 791.5,608.0C793.1,610.6 796.0,608.8 797.7,610.5C799.3,612.1 801.0,615.4 801.4,617.9C801.8,620.4 800.8,623.0 800.2,625.3C799.5,627.6 799.3,630.1 797.7,631.5C796.0,632.9 792.9,634.6 790.3,634.0C787.6,633.3 784.7,630.5 781.6,627.8C778.5,625.1 774.8,621.2 771.7,617.9C768.6,614.6 766.8,611.4 763.1,608.0C759.4,604.6 755.0,601.2 749.5,597.4C743.9,593.5 735.9,587.9 729.7,585.0C723.5,582.1 717.3,582.1 712.4,580.1C707.4,578.0 706.8,575.7 700.0,572.6C693.2,569.5 679.8,564.3 671.8,561.5C663.8,558.7 659.4,556.8 652.0,555.8C644.6,554.8 637.6,555.1 627.3,555.3C617.0,555.6 602.6,556.8 590.2,557.3C577.8,557.8 565.5,558.0 553.1,558.3C540.7,558.6 528.4,559.1 516.0,559.0C503.6,559.0 491.3,558.4 478.9,557.8C466.6,557.2 454.2,556.4 441.8,555.3C429.5,554.3 415.0,552.6 404.7,551.6C394.4,550.6 390.1,550.6 380.0,549.1C369.9,547.7 356.5,544.6 344.4,543.0C332.3,541.3 321.7,540.5 307.3,539.2C292.9,538.0 274.3,536.8 257.8,535.5C241.3,534.3 224.9,533.0 208.4,531.8C191.9,530.7 175.4,529.6 158.9,528.6C142.4,527.6 125.5,526.4 109.5,525.6C93.4,524.9 71.1,524.2 62.5,523.9C53.8,523.6 58.4,530.6 57.5,523.9C56.7,517.2 56.7,490.3 57.5,483.6Z" fill="#ff4600"/>
<path d="M274.7,347.3C276.3,345.3 283.3,341.4 287.5,338.2C291.7,335.0 295.8,330.8 299.9,328.3C304.0,325.8 308.5,324.4 312.2,323.4C316.0,322.3 320.4,320.9 322.1,322.1C323.9,323.4 323.9,327.5 322.6,330.8C321.4,334.1 317.7,338.8 314.7,341.9C311.7,345.0 308.9,347.6 304.8,349.3C300.7,351.1 294.5,352.1 290.0,352.3C285.5,352.5 280.2,351.4 277.6,350.6C275.1,349.7 273.0,349.4 274.7,347.3Z" fill="#ff4600"/>
<path d="M608.8,229 a8.7,9.5 0 0 1 17.4,0 v9 a8.7,9.5 0 0 1 -17.4,0 Z" fill="#ff4600"/>
<path d="M641.3,349.7C642.1,348.4 644.6,347.6 647.8,346.9C651.1,346.2 656.5,345.7 660.8,345.6C665.1,345.4 671.3,345.4 673.8,346.0C676.3,346.5 676.3,347.8 675.6,348.7C675.0,349.7 673.2,350.8 670.1,351.5C667.0,352.2 660.8,352.4 657.1,353.0C653.4,353.6 650.1,355.0 647.8,355.2C645.5,355.5 644.3,355.2 643.2,354.3C642.1,353.4 640.6,350.9 641.3,349.7Z" fill="#ff4600"/>
<path d="M688.6,386.8C688.9,385.4 691.4,383.1 693.3,382.1C695.1,381.2 698.1,380.6 699.8,381.2C701.5,381.8 702.8,384.1 703.5,385.8C704.1,387.5 704.1,389.9 703.5,391.4C702.8,393.0 701.1,394.7 699.8,395.1C698.4,395.6 696.5,395.0 695.1,394.2C693.7,393.4 692.5,391.7 691.4,390.5C690.3,389.2 688.3,388.2 688.6,386.8Z" fill="#ff4600"/>
<path d="M811.0,414.6C811.8,413.5 812.9,412.4 814.7,411.8C816.6,411.2 820.0,410.6 822.2,410.9C824.3,411.2 826.8,412.3 827.7,413.7C828.7,415.1 828.3,417.5 827.7,419.2C827.1,420.9 825.7,422.6 824.0,423.9C822.3,425.1 819.5,426.8 817.5,426.6C815.5,426.5 813.2,424.3 812.0,422.9C810.7,421.5 810.3,419.7 810.1,418.3C810.0,416.9 810.3,415.7 811.0,414.6Z" fill="#ff4600"/>
<path d="M835.1,414.6C835.8,413.4 843.0,411.8 845.3,411.8C847.7,411.8 848.7,413.5 849.1,414.6C849.4,415.7 848.4,417.5 847.2,418.3C846.0,419.1 843.6,419.8 841.6,419.2C839.6,418.6 834.5,415.8 835.1,414.6Z" fill="#ff4600"/>
<path d="M851.3,687.1C852.1,685.5 855.8,687.1 857.0,688.4C858.3,689.6 859.0,692.1 858.8,694.6C858.6,697.0 856.9,702.6 855.8,703.2C854.7,703.8 853.1,700.9 852.3,698.3C851.6,695.6 850.6,688.8 851.3,687.1Z" fill="#ff4600"/>
<path d="M854.6,742.8C855.4,740.6 856.8,740.6 858.3,741.0C859.7,741.5 861.6,743.7 863.2,745.2C864.9,746.8 865.7,749.8 868.2,750.2C870.6,750.6 875.4,749.0 878.1,747.7C880.7,746.5 882.8,742.4 884.2,742.8C885.7,743.2 886.9,747.5 886.7,750.2C886.5,752.9 885.3,755.8 883.0,758.9C880.7,761.9 875.0,765.4 873.1,768.7C871.3,772.0 871.5,775.7 871.9,778.6C872.3,781.5 875.8,783.6 875.6,786.1C875.4,788.5 872.7,791.2 870.6,793.5C868.6,795.7 865.5,797.8 863.2,799.7C860.9,801.5 859.1,804.8 857.0,804.6C855.0,804.4 852.9,800.5 850.9,798.4C848.8,796.4 846.1,795.1 844.7,792.2C843.2,789.3 842.2,784.6 842.2,781.1C842.2,777.6 843.6,774.5 844.7,771.2C845.7,767.9 846.9,764.2 848.4,761.3C849.8,758.4 852.3,757.0 853.3,753.9C854.4,750.8 853.7,744.9 854.6,742.8Z" fill="#ff4600"/>
<path d="M974.5,658.7C976.1,659.1 978.8,661.8 979.4,663.6C980.1,665.5 979.2,668.3 978.2,669.8C977.2,671.3 974.7,673.2 973.3,672.8C971.8,672.4 970.1,669.3 969.6,667.4C969.0,665.4 969.2,662.6 970.0,661.2C970.9,659.7 972.9,658.3 974.5,658.7Z" fill="#ff4600"/>
<path d="M1011.2,805.8C1012.4,804.0 1017.2,803.0 1018.6,804.6C1020.0,806.2 1021.1,813.9 1019.8,815.7C1018.6,817.6 1012.6,817.4 1011.2,815.7C1009.7,814.1 1009.9,807.7 1011.2,805.8Z" fill="#ff4600"/>
<path d="M496.2,505.9C496.6,504.4 499.9,502.8 503.6,500.9C507.4,499.1 512.3,496.2 518.5,494.7C524.7,493.3 532.9,492.7 540.7,492.3C548.6,491.9 559.3,492.1 565.5,492.3C571.7,492.5 573.3,492.5 577.8,493.5C582.4,494.5 587.3,496.7 592.7,498.4C598.0,500.2 604.7,502.2 610.0,503.9C615.3,505.6 622.7,506.1 624.3,508.8C626.0,511.6 623.5,518.0 619.9,520.2C616.2,522.4 609.6,521.5 602.6,521.9C595.6,522.4 586.1,522.8 577.8,522.7C569.6,522.6 560.5,522.0 553.1,521.2C545.7,520.4 539.5,519.1 533.3,517.7C527.1,516.4 521.4,514.6 516.0,513.3C510.7,511.9 504.5,510.8 501.2,509.6C497.9,508.3 495.8,507.3 496.2,505.9Z" fill="#c80028"/>
<path d="M712.4,531.8C713.4,530.9 717.1,530.0 719.8,530.1C722.5,530.2 727.0,531.3 728.4,532.6C729.9,533.8 729.7,536.5 728.4,537.5C727.2,538.5 723.5,539.1 721.0,538.8C718.5,538.4 715.0,536.7 713.6,535.5C712.2,534.4 711.3,532.7 712.4,531.8Z" fill="#c80028"/>
<path d="M419.5,199.7C421.3,199.0 432.2,199.1 434.3,199.7C436.4,200.3 432.9,202.4 431.8,203.4C430.8,204.4 429.6,205.9 428.1,205.9C426.7,205.9 424.6,204.7 423.2,203.7C421.7,202.6 417.6,200.4 419.5,199.7Z" fill="#ffffff"/>
<path d="M409.6,200.7L439.2,200.7L439.9,205.9L436.8,209.0L431.8,210.2" fill="none" stroke="#3a9c16" stroke-width="1.7" stroke-linejoin="round" stroke-linecap="round"/>
<path d="M448.9,224.7L449.6,233.1" fill="none" stroke="#3a9c16" stroke-width="2.4" stroke-linejoin="round" stroke-linecap="round"/>
<path d="M574.2,200.9C574.6,201.8 575.7,204.6 576.7,205.9C577.7,207.2 579.2,208.3 580.4,209.0C581.6,209.6 582.6,210.1 584.1,209.8C585.7,209.6 587.9,208.4 589.7,207.7C591.4,207.1 593.5,206.9 594.6,205.9C595.8,204.9 596.2,202.3 596.5,201.6" fill="none" stroke="#3a9c16" stroke-width="1.7" stroke-linejoin="round" stroke-linecap="round"/>
<path d="M577.3,200.9C576.0,201.3 577.7,202.3 578.5,202.8C579.4,203.3 581.0,203.8 582.3,203.7C583.5,203.6 585.2,202.6 586.0,202.2C586.7,201.7 588.0,201.2 586.6,200.9C585.1,200.7 578.7,200.6 577.3,200.9Z" fill="#ffeb2d"/>
<path d="M466.6,813.3C467.4,812.2 469.4,808.3 471.5,807.1C473.6,805.8 476.0,805.6 478.9,805.8C481.8,806.0 485.5,807.5 488.8,808.3C492.1,809.1 495.4,810.2 498.7,810.8C502.0,811.4 506.1,812.2 508.6,812.0C511.1,811.8 512.1,809.3 513.5,809.5C515.0,809.8 516.6,812.6 517.2,813.3" fill="none" stroke="#3a9c16" stroke-width="1.7" stroke-linejoin="round" stroke-linecap="round"/>
<path d="M943.9,706.9C943.2,704.4 946.1,695.4 947.4,693.3C948.6,691.3 949.8,692.6 951.3,694.6C952.9,696.5 956.7,702.7 956.8,704.9C956.9,707.2 954.0,707.8 951.8,708.2C949.7,708.5 944.7,709.4 943.9,706.9Z" fill="none" stroke="#3a9c16" stroke-width="1.6" stroke-linejoin="round" stroke-linecap="round"/>
<path d="M995.1,682.2C995.4,680.1 995.9,677.6 997.6,676.0C999.2,674.4 1002.3,673.1 1005.0,672.8C1007.7,672.5 1011.0,673.1 1013.6,674.3C1016.3,675.4 1018.6,677.8 1021.1,679.7C1023.5,681.7 1025.2,684.6 1028.5,685.9C1031.8,687.2 1037.6,687.8 1040.9,687.6C1044.1,687.5 1045.6,685.7 1048.3,685.2C1050.9,684.7 1054.0,684.0 1056.9,684.7C1059.8,685.3 1063.1,687.5 1065.6,689.1C1068.1,690.8 1070.9,692.6 1071.8,694.6C1072.6,696.5 1071.3,699.4 1070.5,700.7C1069.7,702.1 1068.5,702.9 1066.8,702.7C1065.2,702.5 1063.3,700.8 1060.6,699.5C1058.0,698.2 1054.0,696.1 1050.7,695.0C1047.4,694.0 1043.9,692.9 1040.9,693.3C1037.8,693.7 1035.5,696.5 1032.2,697.5C1028.9,698.6 1025.0,699.4 1021.1,699.5C1017.2,699.6 1012.2,699.1 1008.7,698.3C1005.2,697.4 1002.2,696.2 1000.0,694.6C997.9,692.9 996.7,690.4 995.8,688.4C995.0,686.3 994.8,684.2 995.1,682.2Z" fill="none" stroke="#3a9c16" stroke-width="1.6" stroke-linejoin="round" stroke-linecap="round"/>
<path d="M1172.4,757.1C1172.4,757.6 1172.0,758.1 1171.4,758.5C1170.8,758.9 1169.8,759.2 1168.7,759.5C1167.6,759.7 1166.2,759.8 1165.0,759.8C1163.8,759.8 1162.4,759.7 1161.3,759.5C1160.2,759.2 1159.2,758.9 1158.6,758.5C1157.9,758.1 1157.6,757.6 1157.6,757.1C1157.6,756.7 1157.9,756.2 1158.6,755.8C1159.2,755.4 1160.2,755.0 1161.3,754.8C1162.4,754.5 1163.8,754.4 1165.0,754.4C1166.2,754.4 1167.6,754.5 1168.7,754.8C1169.8,755.0 1170.8,755.4 1171.4,755.8C1172.0,756.2 1172.4,756.7 1172.4,757.1Z" fill="#ffffff"/>
<path d="M1179.8,757.1C1179.8,758.4 1179.1,759.8 1177.8,760.8C1176.5,761.9 1174.4,762.9 1172.2,763.5C1170.0,764.2 1167.1,764.5 1164.5,764.5C1161.9,764.5 1159.0,764.2 1156.8,763.5C1154.6,762.9 1152.5,761.9 1151.2,760.8C1149.9,759.8 1149.2,758.4 1149.2,757.1C1149.2,755.9 1149.9,754.5 1151.2,753.4C1152.5,752.3 1154.6,751.3 1156.8,750.7C1159.0,750.1 1161.9,749.7 1164.5,749.7C1167.1,749.7 1170.0,750.1 1172.2,750.7C1174.4,751.3 1176.5,752.3 1177.8,753.4C1179.1,754.5 1179.8,755.9 1179.8,757.1Z" fill="none" stroke="#3a9c16" stroke-width="1.6" stroke-linejoin="round" stroke-linecap="round"/>
<path d="M871.1,720.5C871.1,720.8 871.0,721.1 870.9,721.3C870.8,721.5 870.7,721.8 870.5,721.9C870.3,722.0 870.1,722.1 869.9,722.1C869.7,722.1 869.5,722.0 869.3,721.9C869.1,721.8 869.0,721.5 868.9,721.3C868.8,721.1 868.7,720.8 868.7,720.5C868.7,720.2 868.8,719.9 868.9,719.7C869.0,719.5 869.1,719.2 869.3,719.1C869.5,719.0 869.7,718.9 869.9,718.9C870.1,718.9 870.3,719.0 870.5,719.1C870.7,719.2 870.8,719.5 870.9,719.7C871.0,719.9 871.1,720.2 871.1,720.5Z" fill="#3a9c16"/>
<path d="M68.0,312.4C68.0,312.8 67.9,313.2 67.7,313.5C67.4,313.8 67.1,314.1 66.7,314.3C66.3,314.5 65.8,314.6 65.4,314.6C65.0,314.6 64.5,314.5 64.1,314.3C63.7,314.1 63.4,313.8 63.1,313.5C62.9,313.2 62.8,312.8 62.8,312.4C62.8,312.0 62.9,311.6 63.1,311.3C63.4,311.0 63.7,310.7 64.1,310.5C64.5,310.3 65.0,310.2 65.4,310.2C65.8,310.2 66.3,310.3 66.7,310.5C67.1,310.7 67.4,311.0 67.7,311.3C67.9,311.6 68.0,312.0 68.0,312.4Z" fill="#120a00"/>
<path d="M82.6,317.8C82.6,318.2 82.5,318.7 82.2,319.0C82.0,319.3 81.6,319.7 81.2,319.9C80.8,320.1 80.3,320.2 79.8,320.2C79.3,320.2 78.8,320.1 78.4,319.9C78.0,319.7 77.6,319.3 77.4,319.0C77.1,318.7 77.0,318.2 77.0,317.8C77.0,317.4 77.1,316.9 77.4,316.6C77.6,316.3 78.0,315.9 78.4,315.7C78.8,315.5 79.3,315.4 79.8,315.4C80.3,315.4 80.8,315.5 81.2,315.7C81.6,315.9 82.0,316.3 82.2,316.6C82.5,316.9 82.6,317.4 82.6,317.8Z" fill="#120a00"/>
<path d="M86.0,320.9C86.8,321.2 89.1,322.0 90.9,322.6C92.8,323.2 96.1,324.3 97.1,324.6" fill="none" stroke="#120a00" stroke-width="3.4" stroke-linejoin="round" stroke-linecap="round"/>
<path d="M97.1,331.5C97.4,329.7 100.7,329.0 102.5,329.5C104.4,330.1 108.5,333.1 108.2,335.0C107.9,336.8 102.7,341.2 100.8,340.7C98.9,340.1 96.8,333.4 97.1,331.5Z" fill="none" stroke="#120a00" stroke-width="2.2" stroke-linejoin="round" stroke-linecap="round"/>
<path d="M408.3,202.8C409.4,203.2 412.0,204.3 414.5,205.3C417.0,206.2 420.3,207.2 423.2,208.4C426.1,209.5 429.5,210.8 431.8,212.1C434.2,213.3 436.2,214.1 437.4,215.8C438.6,217.4 438.3,219.7 439.2,222.0C440.2,224.2 441.7,226.9 443.0,229.4C444.2,231.9 445.4,234.4 446.7,236.8C447.9,239.2 449.1,242.0 450.4,243.6C451.6,245.3 452.6,245.8 454.1,246.7C455.5,247.6 457.4,247.9 459.0,249.2C460.7,250.4 462.9,252.7 464.0,254.1C465.0,255.6 465.2,256.6 465.2,257.8C465.2,259.1 465.2,260.6 464.0,261.5C462.7,262.5 458.6,262.6 457.8,263.4C457.0,264.2 457.4,265.3 459.0,266.5C460.7,267.6 465.0,269.1 467.7,270.2C470.4,271.3 472.9,272.0 475.1,273.3C477.3,274.5 479.3,276.1 480.7,277.6C482.0,279.2 482.8,280.8 483.1,282.6C483.4,284.3 481.6,286.5 482.5,288.1C483.4,289.8 486.6,291.1 488.7,292.4C490.8,293.8 493.2,294.9 494.9,296.2C496.6,297.4 497.4,298.2 498.7,299.9C500.0,301.5 501.0,305.6 502.4,306.0C503.9,306.5 507.2,304.0 507.4,302.3C507.6,300.7 504.9,297.5 503.6,296.2C502.4,294.8 501.2,294.7 499.8,294.3C498.5,293.9 496.3,294.6 495.5,293.7C494.7,292.8 495.5,290.4 494.9,288.7C494.3,287.1 492.8,285.6 491.8,283.8C490.8,281.9 489.5,279.5 488.7,277.6C487.9,275.8 487.9,274.1 486.8,272.7C485.8,271.2 484.1,270.6 482.5,269.0C481.0,267.3 478.8,264.8 477.6,262.8C476.3,260.7 476.5,258.6 475.1,256.6C473.7,254.5 471.1,252.5 468.9,250.4C466.8,248.3 463.7,246.1 462.1,244.2C460.6,242.4 460.3,241.1 459.6,239.3C459.0,237.4 458.5,234.9 458.4,233.1C458.3,231.2 457.9,228.9 459.0,228.1C460.2,227.4 463.1,228.4 465.2,228.8C467.3,229.2 469.8,229.9 471.4,230.6C472.9,231.3 473.9,231.9 474.5,233.1C475.1,234.3 474.4,236.2 475.1,238.0C475.8,239.9 477.7,242.4 478.8,244.2C479.9,246.1 481.2,247.6 481.9,249.2C482.6,250.7 482.2,252.1 483.1,253.5C484.1,254.9 486.0,256.6 487.5,257.8C488.9,259.1 490.4,260.3 491.8,260.9C493.2,261.5 495.1,260.5 496.1,261.5C497.2,262.6 496.8,265.4 498.0,267.1C499.1,268.7 501.3,270.2 502.9,271.4C504.6,272.7 507.1,273.0 507.9,274.5C508.6,276.1 506.3,279.2 507.2,280.7C508.2,282.2 511.6,282.7 513.4,283.8C515.3,284.9 516.7,286.1 518.4,287.5C520.0,288.9 521.5,290.9 523.3,292.4C525.2,294.0 527.0,293.9 529.5,296.8C532.0,299.7 536.0,305.9 538.3,309.8C540.6,313.6 543.0,317.0 543.2,319.6C543.4,322.3 539.9,323.8 539.5,325.8C539.1,327.9 538.9,329.5 540.7,332.0C542.6,334.5 547.3,338.2 550.6,340.7C553.9,343.1 556.8,345.2 560.5,346.9C564.2,348.5 568.8,348.7 572.9,350.6C577.0,352.4 580.3,355.7 585.3,358.0C590.2,360.2 597.2,362.3 602.6,364.2C607.9,366.0 613.3,368.7 617.4,369.1C621.5,369.5 624.0,367.3 627.3,366.6C630.6,366.0 633.9,365.0 637.2,365.4C640.5,365.8 643.8,367.3 647.1,369.1C650.4,371.0 653.7,374.1 657.0,376.5C660.3,379.0 663.6,382.3 666.9,383.9C670.2,385.6 673.0,385.2 676.8,386.4C680.5,387.7 685.3,390.4 689.1,391.4C693.0,392.3 697.2,391.2 699.8,392.3C702.3,393.5 702.8,396.3 704.4,398.3C705.9,400.3 707.7,402.4 709.0,404.4C710.4,406.3 711.7,408.2 712.4,410.0C713.1,411.7 712.6,413.3 713.3,415.0C714.0,416.7 715.1,419.1 716.4,420.2C717.7,421.2 719.2,420.3 721.1,421.1C722.9,421.9 725.6,423.4 727.6,424.8C729.6,426.2 731.9,428.0 733.1,429.4C734.4,430.8 733.4,432.2 735.0,433.1C736.5,434.1 739.9,434.5 742.4,435.0C744.9,435.5 747.7,435.0 749.8,435.9C752.0,436.8 753.5,439.5 755.4,440.6C757.2,441.6 759.4,442.7 761.0,442.4C762.5,442.1 764.4,440.2 764.7,438.7C765.0,437.2 762.2,434.7 762.8,433.1C763.4,431.6 766.5,430.4 768.4,429.4C770.2,428.5 772.2,427.3 773.9,427.6C775.6,427.9 777.3,429.4 778.6,431.3C779.8,433.1 780.3,436.5 781.4,438.7C782.4,440.9 784.0,442.1 785.1,444.3C786.2,446.4 787.2,448.9 787.9,451.7C788.5,454.5 788.8,458.2 788.8,461.0C788.8,463.7 787.8,466.0 787.9,468.4C787.9,470.7 789.9,472.6 789.0,475.0C788.2,477.3 784.9,480.1 782.8,482.4C780.8,484.6 778.3,486.3 776.7,488.6C775.0,490.8 774.8,493.9 773.0,496.0C771.1,498.0 767.4,498.4 765.5,500.9C763.7,503.4 763.1,507.9 761.8,510.8C760.6,513.7 758.5,515.8 758.1,518.2C757.7,520.7 758.1,523.8 759.4,525.6C760.6,527.5 764.7,527.9 765.5,529.4C766.4,530.8 765.5,532.4 764.3,534.3C763.1,536.2 760.0,538.2 758.1,540.5C756.3,542.8 753.6,544.6 753.2,547.9C752.8,551.2 753.4,556.1 755.6,560.3C757.9,564.4 763.3,567.7 766.8,572.6C770.3,577.6 773.4,584.1 776.7,589.9C780.0,595.8 783.9,603.3 786.6,608.0C789.2,612.7 790.9,615.0 792.7,617.9C794.6,620.8 796.7,622.8 797.7,625.3C798.7,627.8 797.5,630.3 798.9,632.7C800.4,635.2 803.0,637.7 806.3,640.1C809.6,642.6 814.6,645.1 818.7,647.6C822.8,650.0 827.6,652.9 831.1,655.0C834.6,657.0 837.7,658.3 839.7,659.9C841.8,661.6 841.8,663.4 843.4,664.9C845.1,666.3 848.3,665.7 849.6,668.6C850.9,671.5 850.9,677.4 851.3,682.2C851.8,686.9 852.2,692.1 852.1,697.0C852.0,702.0 851.5,706.9 850.9,711.9C850.2,716.8 849.2,721.8 848.4,726.7C847.6,731.6 846.7,737.0 845.9,741.5C845.1,746.1 844.5,750.6 843.4,753.9C842.4,757.2 840.1,758.4 839.7,761.3C839.3,764.2 841.2,767.9 841.0,771.2C840.8,774.5 838.6,777.8 838.5,781.1C838.4,784.4 840.5,787.9 840.5,791.0C840.5,794.1 839.1,797.4 838.5,799.7C837.9,801.9 837.0,803.8 836.8,804.6" fill="none" stroke="#120a00" stroke-width="2.7" stroke-linejoin="round" stroke-linecap="round"/>
<path d="M701.2,391.4C701.2,391.8 701.1,392.3 700.9,392.6C700.7,393.0 700.4,393.3 700.0,393.5C699.7,393.7 699.2,393.8 698.8,393.8C698.4,393.8 698.0,393.7 697.6,393.5C697.3,393.3 696.9,393.0 696.7,392.6C696.5,392.3 696.4,391.8 696.4,391.4C696.4,391.0 696.5,390.5 696.7,390.2C696.9,389.9 697.3,389.5 697.6,389.3C698.0,389.1 698.4,389.0 698.8,389.0C699.2,389.0 699.7,389.1 700.0,389.3C700.4,389.5 700.7,389.9 700.9,390.2C701.1,390.5 701.2,391.0 701.2,391.4Z" fill="#120a00"/>
<path d="M705.3,320.0C705.2,320.9 705.3,323.7 704.4,325.6C703.5,327.4 700.8,329.0 699.8,331.1C698.7,333.3 698.8,336.2 697.9,338.5C697.0,340.9 695.0,342.6 694.2,345.0C693.4,347.5 693.7,350.8 693.3,353.4C692.8,356.0 692.3,358.6 691.4,360.8C690.5,363.0 687.9,365.1 687.7,366.4C687.5,367.7 688.5,368.3 690.5,368.6C692.5,368.9 696.7,368.6 699.8,368.2C702.8,367.9 705.9,366.7 709.0,366.4C712.1,366.0 715.5,365.8 718.3,366.0C721.1,366.2 723.6,366.5 725.7,367.3C727.9,368.1 729.6,369.8 731.3,371.0C733.0,372.2 735.0,373.0 735.9,374.7C736.8,376.4 737.0,378.9 736.8,381.2C736.7,383.5 735.6,385.8 735.0,388.6C734.4,391.4 733.8,395.1 733.1,397.9C732.5,400.7 731.3,403.2 731.3,405.3C731.3,407.5 731.9,408.7 733.1,410.9C734.4,413.0 736.5,415.8 738.7,418.3C740.9,420.8 743.6,424.0 746.1,425.7C748.6,427.4 750.8,428.7 753.5,428.5C756.3,428.3 759.7,425.9 762.8,424.8C765.9,423.7 769.3,422.0 772.1,422.0C774.9,422.0 777.0,423.4 779.5,424.8C782.0,426.2 784.5,429.6 786.9,430.4C789.4,431.1 792.0,430.5 794.3,429.4C796.7,428.3 799.3,426.0 800.8,423.9C802.4,421.7 802.5,418.6 803.6,416.4C804.7,414.3 805.2,412.4 807.3,410.9C809.5,409.3 813.5,408.3 816.6,407.2C819.7,406.1 823.1,405.5 825.9,404.4C828.7,403.3 831.0,401.8 833.3,400.7C835.6,399.6 838.2,397.9 839.8,397.9C841.3,397.9 842.6,399.6 842.6,400.7C842.6,401.8 840.9,403.5 839.8,404.4C838.7,405.3 836.2,405.2 836.1,406.2C835.9,407.3 838.5,409.2 838.9,410.9C839.2,412.6 838.5,414.7 837.9,416.4C837.3,418.1 835.3,419.4 835.1,421.1C835.0,422.8 835.9,425.7 837.0,426.6C838.1,427.6 840.6,427.6 841.6,426.6C842.7,425.7 843.5,423.1 843.5,421.1C843.5,419.1 842.1,416.6 841.6,414.6C841.2,412.6 840.1,410.3 840.7,409.0C841.3,407.8 843.8,408.1 845.3,407.2C846.9,406.2 848.7,404.5 850.0,403.5C851.2,402.4 851.8,400.7 852.8,400.7C853.7,400.7 854.8,402.6 855.5,403.5C856.2,404.3 855.7,405.2 857.0,405.7C858.3,406.2 861.6,405.7 863.5,406.6C865.3,407.6 866.9,410.0 868.1,411.3C869.3,412.5 869.2,413.6 870.9,414.1C872.6,414.5 875.8,414.2 878.3,414.1C880.8,413.9 883.6,412.8 885.7,413.1C887.9,413.4 889.4,415.1 891.3,415.9C893.1,416.7 895.1,417.8 896.8,417.8C898.5,417.8 900.2,416.8 901.5,415.9C902.7,415.0 902.3,413.0 904.3,412.2C906.3,411.4 910.8,411.3 913.5,411.3C916.3,411.3 918.3,410.7 921.0,412.2C923.6,413.8 927.1,417.5 929.6,420.5C932.0,423.6 933.3,428.4 935.7,430.4C938.2,432.5 941.7,431.5 944.4,432.9C947.1,434.4 950.0,436.8 951.8,439.1C953.7,441.4 953.5,444.2 955.5,446.5C957.6,448.8 961.1,451.3 964.2,452.7C967.3,454.1 970.8,455.0 974.1,455.2C977.4,455.4 980.3,453.7 984.0,453.9C987.7,454.1 992.6,455.2 996.3,456.4C1000.0,457.6 1002.9,459.3 1006.2,461.4C1009.5,463.4 1013.6,465.9 1016.1,468.8C1018.6,471.7 1019.6,475.4 1021.1,478.7C1022.5,482.0 1023.3,485.9 1024.8,488.6C1026.2,491.2 1029.1,492.7 1029.7,494.7C1030.3,496.8 1029.5,499.1 1028.5,500.9C1027.5,502.8 1023.5,504.7 1023.5,505.9C1023.5,507.0 1026.0,507.4 1028.5,507.8C1031.0,508.3 1036.1,506.8 1038.4,508.3C1040.6,509.9 1040.4,516.4 1042.1,517.0C1043.7,517.6 1045.6,512.5 1048.3,512.0C1050.9,511.6 1054.5,513.1 1058.2,514.5C1061.9,516.0 1067.4,518.8 1070.5,520.7C1073.6,522.6 1075.3,524.0 1076.7,525.6C1078.2,527.3 1077.3,530.2 1079.2,530.6C1081.0,531.0 1084.3,528.1 1087.8,528.1C1091.3,528.1 1095.7,530.0 1100.2,530.6C1104.7,531.2 1110.9,530.8 1115.0,531.8C1119.2,532.9 1121.6,534.7 1124.9,536.8C1128.2,538.8 1131.9,542.1 1134.8,544.2C1137.7,546.3 1139.8,547.9 1142.2,549.1C1144.7,550.4 1147.4,551.2 1149.7,551.6C1151.9,552.0 1154.2,550.8 1155.8,551.6C1157.5,552.4 1158.5,554.3 1159.6,556.6C1160.6,558.8 1161.4,562.5 1162.0,565.2C1162.6,567.9 1163.5,569.7 1163.3,572.6C1163.1,575.5 1162.2,579.2 1160.8,582.5C1159.3,585.8 1156.9,589.5 1154.6,592.4C1152.3,595.3 1149.7,597.2 1147.2,599.8C1144.7,602.4 1141.4,605.4 1139.8,608.0C1138.1,610.6 1138.9,613.2 1137.3,615.4C1135.6,617.7 1131.7,619.1 1129.9,621.6C1128.0,624.1 1126.6,627.2 1126.2,630.3C1125.8,633.3 1127.6,636.4 1127.4,640.1C1127.2,643.9 1125.8,648.4 1124.9,652.5C1124.1,656.6 1123.5,661.2 1122.5,664.9C1121.4,668.6 1120.2,671.5 1118.7,674.8C1117.3,678.1 1115.2,681.8 1113.8,684.7C1112.4,687.5 1110.9,689.6 1110.1,692.1C1109.3,694.6 1110.3,697.6 1108.9,699.5C1107.4,701.4 1103.1,701.8 1101.4,703.2C1099.8,704.7 1101.2,707.2 1099.0,708.2C1096.7,709.1 1091.3,708.3 1087.8,708.9C1084.3,709.5 1081.2,710.5 1077.9,711.9C1074.6,713.2 1071.3,715.4 1068.1,716.8C1064.8,718.3 1061.0,719.1 1058.2,720.5C1055.3,722.0 1053.0,723.6 1050.7,725.5C1048.5,727.3 1046.1,729.4 1044.6,731.6C1043.0,733.9 1041.8,736.2 1041.3,739.1C1040.9,742.0 1042.4,746.1 1042.1,749.0C1041.8,751.8 1041.1,753.9 1039.6,756.4C1038.2,758.9 1035.7,761.3 1033.4,763.8C1031.2,766.3 1028.5,768.3 1026.0,771.2C1023.5,774.1 1021.5,778.0 1018.6,781.1C1015.7,784.2 1011.4,786.9 1008.7,789.8C1006.0,792.6 1004.6,795.7 1002.5,798.4C1000.5,801.1 998.6,803.6 996.3,805.8C994.1,808.1 992.2,810.9 988.9,812.0C985.6,813.2 980.7,813.0 976.6,812.8C972.4,812.5 967.7,811.0 964.2,810.3C960.7,809.5 957.2,809.1 955.5,808.3C953.9,807.5 954.5,805.8 954.3,805.3" fill="none" stroke="#120a00" stroke-width="2.7" stroke-linejoin="round" stroke-linecap="round"/>
<path d="M705.3,320.3C704.7,319.8 704.1,317.8 701.6,317.5C699.1,317.2 694.2,317.9 690.5,318.4C686.8,318.9 682.1,319.3 679.4,320.3C676.6,321.2 675.0,321.8 673.8,324.0C672.6,326.1 673.2,330.8 671.9,333.2C670.7,335.7 669.5,337.1 666.4,338.8C663.3,340.5 658.0,342.2 653.4,343.4C648.7,344.7 643.2,346.7 638.5,346.2C633.9,345.8 628.7,343.1 625.6,340.7C622.5,338.2 622.4,334.9 620.0,331.4C617.6,327.9 613.1,323.7 611.2,319.6C609.3,315.6 609.0,311.4 608.7,307.3C608.5,303.2 609.2,299.0 610.0,294.9C610.8,290.8 613.3,285.9 613.7,282.6C614.1,279.3 612.3,278.4 612.5,275.1C612.7,271.8 614.2,265.4 614.9,262.8C615.7,260.1 615.1,260.5 616.9,259.1C618.6,257.6 622.6,256.0 625.5,254.1C628.4,252.3 631.7,249.4 634.2,247.9C636.7,246.5 638.1,246.0 640.4,245.5C642.6,244.9 645.1,244.7 647.8,244.8C650.5,245.0 654.0,246.3 656.4,246.4C658.9,246.6 660.8,245.1 662.6,245.5C664.5,245.8 665.7,247.7 667.6,248.6C669.4,249.4 671.7,250.2 673.8,250.4C675.8,250.6 678.4,250.0 679.9,249.8C681.5,249.6 682.6,250.1 683.0,249.2C683.4,248.2 682.7,245.6 682.4,244.2C682.1,242.9 680.6,241.9 681.2,241.1C681.8,240.3 683.6,239.7 686.1,239.5C688.6,239.3 692.3,239.9 696.0,239.9C699.7,239.9 705.3,239.0 708.4,239.3C711.5,239.6 713.2,241.1 714.6,241.7C715.9,242.4 715.2,242.6 716.4,243.3C717.7,244.0 719.8,246.2 722.0,246.1C724.2,245.9 727.3,242.4 729.4,242.4C731.6,242.4 733.1,243.9 735.0,246.1C736.8,248.2 739.3,252.6 740.6,255.4C741.8,258.1 741.2,260.0 742.4,262.8C743.6,265.6 746.1,269.0 748.0,272.0C749.8,275.1 751.8,279.0 753.5,281.3C755.2,283.6 756.6,285.6 758.2,286.0C759.7,286.3 761.7,285.2 762.8,283.2C763.9,281.2 764.7,277.0 764.7,273.9C764.7,270.8 763.9,268.0 762.8,264.6C761.7,261.2 759.6,256.9 758.2,253.5C756.8,250.1 755.4,247.3 754.5,244.2C753.5,241.1 752.6,237.7 752.6,234.9C752.6,232.2 753.1,230.0 754.5,227.5C755.9,225.1 758.6,222.3 761.0,220.1C763.3,217.9 765.6,216.4 768.4,214.5C771.2,212.7 774.6,210.8 777.7,209.0C780.7,207.1 783.8,205.0 786.9,203.4C790.0,201.9 794.7,200.3 796.2,199.7" fill="none" stroke="#120a00" stroke-width="2.7" stroke-linejoin="round" stroke-linecap="round"/>
<path d="M714.2,402.0C714.8,401.0 717.3,400.9 718.7,401.6C720.0,402.3 722.2,405.0 722.4,406.2C722.5,407.5 720.8,408.8 719.6,409.0C718.4,409.2 715.9,408.7 715.0,407.5C714.1,406.4 713.6,403.0 714.2,402.0Z" fill="none" stroke="#120a00" stroke-width="2.2" stroke-linejoin="round" stroke-linecap="round"/>
<path d="M707.4,403.2C707.4,402.4 712.4,402.8 714.8,403.2C717.3,403.6 721.2,404.9 722.3,405.7C723.3,406.5 722.3,407.8 721.0,408.2C719.8,408.6 717.1,409.0 714.8,408.2C712.6,407.4 707.4,404.1 707.4,403.2Z" fill="none" stroke="#120a00" stroke-width="2" stroke-linejoin="round" stroke-linecap="round"/>
<path d="M853.3,643.9C853.9,643.0 855.6,641.2 857.0,641.4C858.5,641.6 860.7,643.7 862.0,645.1C863.2,646.5 864.5,648.7 864.5,650.0C864.5,651.4 863.2,653.0 862.0,653.0C860.7,653.0 858.4,651.2 857.0,650.0C855.7,648.9 854.4,647.4 853.8,646.3C853.2,645.3 852.8,644.7 853.3,643.9Z" fill="none" stroke="#120a00" stroke-width="2" stroke-linejoin="round" stroke-linecap="round"/>
<path d="M695.3,344.6C695.3,344.9 695.2,345.2 695.1,345.5C694.9,345.7 694.7,345.9 694.5,346.1C694.2,346.2 693.9,346.3 693.6,346.3C693.3,346.3 693.0,346.2 692.8,346.1C692.5,345.9 692.3,345.7 692.1,345.5C692.0,345.2 691.9,344.9 691.9,344.6C691.9,344.3 692.0,344.0 692.1,343.8C692.3,343.5 692.5,343.3 692.8,343.1C693.0,343.0 693.3,342.9 693.6,342.9C693.9,342.9 694.2,343.0 694.5,343.1C694.7,343.3 694.9,343.5 695.1,343.8C695.2,344.0 695.3,344.3 695.3,344.6Z" fill="#120a00"/>
<path d="M759.3,269.8C759.3,270.1 759.2,270.5 759.1,270.7C758.9,271.0 758.7,271.3 758.5,271.4C758.2,271.6 757.9,271.7 757.6,271.7C757.3,271.7 757.0,271.6 756.8,271.4C756.5,271.3 756.3,271.0 756.2,270.7C756.0,270.5 756.0,270.1 756.0,269.8C756.0,269.5 756.0,269.2 756.2,268.9C756.3,268.6 756.5,268.4 756.8,268.2C757.0,268.1 757.3,268.0 757.6,268.0C757.9,268.0 758.2,268.1 758.5,268.2C758.7,268.4 758.9,268.6 759.1,268.9C759.2,269.2 759.3,269.5 759.3,269.8Z" fill="#120a00"/>
<path d="M774.9,271.7C776.9,271.4 784.2,270.0 786.9,270.2C789.6,270.4 790.5,271.6 791.0,273.0C791.5,274.4 789.9,277.6 789.7,278.5" fill="none" stroke="#120a00" stroke-width="3.6" stroke-linejoin="round" stroke-linecap="round"/>
<path d="M780.4,285.0C781.2,284.4 783.1,285.6 784.1,286.9C785.2,288.1 786.6,290.6 786.9,292.4C787.2,294.3 786.8,297.4 786.0,298.0C785.2,298.6 783.4,297.4 782.3,296.2C781.2,294.9 779.8,292.4 779.5,290.6C779.2,288.7 779.7,285.6 780.4,285.0Z" fill="none" stroke="#120a00" stroke-width="2.2" stroke-linejoin="round" stroke-linecap="round"/>
<path d="M721.1,313.8C721.7,312.5 726.2,309.0 729.4,307.3C732.7,305.6 736.5,304.3 740.6,303.6C744.6,302.8 749.2,302.3 753.5,302.6C757.9,303.0 762.8,304.3 766.5,305.4C770.2,306.5 773.0,308.7 775.8,309.1C778.6,309.6 780.7,307.3 783.2,308.2C785.7,309.1 788.2,312.7 790.6,314.7C793.1,316.7 795.3,318.7 798.1,320.3C800.8,321.8 804.2,322.7 807.3,324.0C810.4,325.2 815.4,326.4 816.6,327.7C817.8,328.9 816.9,330.6 814.7,331.4C812.6,332.2 808.3,332.2 803.6,332.3C799.0,332.5 789.4,332.9 786.9,332.3C784.5,331.7 789.7,330.0 788.8,328.6C787.9,327.2 783.2,325.7 781.4,324.0C779.5,322.3 779.8,320.0 777.7,318.4C775.5,316.9 771.8,315.8 768.4,314.7C765.0,313.6 760.6,312.8 757.2,311.9C753.8,311.0 751.1,309.8 748.0,309.1C744.9,308.5 741.5,307.7 738.7,308.2C735.9,308.7 733.4,310.8 731.3,311.9C729.1,313.0 727.4,314.4 725.7,314.7C724.0,315.0 720.5,315.0 721.1,313.8Z" fill="none" stroke="#120a00" stroke-width="2.7" stroke-linejoin="round" stroke-linecap="round"/>
<path d="M780.9,346.4C781.4,345.4 783.6,344.4 785.6,344.1C787.6,343.9 790.8,344.5 793.0,345.1C795.1,345.7 797.8,347.0 798.5,347.9C799.3,348.7 799.0,349.5 797.6,350.1C796.2,350.7 792.7,351.6 790.2,351.6C787.7,351.5 784.3,350.6 782.8,349.7C781.2,348.8 780.5,347.3 780.9,346.4Z" fill="none" stroke="#120a00" stroke-width="2.7" stroke-linejoin="round" stroke-linecap="round"/>
<path d="M823.6,333.4C824.2,332.7 827.1,332.3 830.1,331.9C833.0,331.5 837.7,331.0 841.2,331.2C844.8,331.3 848.6,332.0 851.4,333.0C854.2,334.0 855.7,335.8 857.9,337.1C860.1,338.4 862.7,339.6 864.4,340.8C866.1,342.0 868.1,343.6 868.1,344.5C868.1,345.4 866.4,346.4 864.4,346.4C862.4,346.4 858.7,344.7 856.0,344.5C853.4,344.4 850.8,344.8 848.6,345.4C846.5,346.1 844.5,347.1 843.1,348.2C841.7,349.3 841.4,351.8 840.3,351.9C839.2,352.1 838.3,350.1 836.6,349.1C834.9,348.2 832.4,346.6 830.1,346.4C827.8,346.2 825.0,347.7 822.7,347.9C820.3,348.0 817.7,347.9 816.2,347.3C814.6,346.7 813.2,345.3 813.4,344.5C813.5,343.7 814.9,342.7 817.1,342.7C819.3,342.6 823.9,343.8 826.4,344.1C828.8,344.5 831.3,345.4 831.9,344.5C832.6,343.6 831.0,340.3 830.1,338.9C829.1,337.6 827.4,337.1 826.4,336.2C825.3,335.2 823.0,334.1 823.6,333.4Z" fill="none" stroke="#120a00" stroke-width="2.7" stroke-linejoin="round" stroke-linecap="round"/>
<path d="M876.4,344.5C877.3,343.7 879.7,343.1 882.0,343.0C884.3,343.0 888.7,343.4 890.4,344.1C892.1,344.9 892.4,346.4 892.2,347.3C892.1,348.2 891.3,349.2 889.4,349.7C887.6,350.2 883.2,350.4 881.1,350.1C879.0,349.8 877.6,348.8 876.8,347.9C876.0,346.9 875.6,345.3 876.4,344.5Z" fill="none" stroke="#120a00" stroke-width="2.7" stroke-linejoin="round" stroke-linecap="round"/>
<path d="M926.5,412.2C927.4,410.9 931.8,410.0 933.0,410.9C934.2,411.8 934.5,416.4 933.6,417.8C932.6,419.1 928.6,420.0 927.4,419.1C926.3,418.1 925.6,413.6 926.5,412.2Z" fill="#ffeb2d"/>
<path d="M918.7,413.5C918.4,414.6 919.5,417.7 921.0,418.7C922.4,419.7 925.4,419.8 927.4,419.6C929.5,419.5 932.1,419.4 933.2,418.0C934.3,416.6 934.7,412.5 933.9,411.3C933.1,410.1 930.2,410.5 928.4,410.7C926.5,410.9 924.4,411.9 922.8,412.4C921.2,412.9 919.0,412.5 918.7,413.5Z" fill="none" stroke="#120a00" stroke-width="2.4" stroke-linejoin="round" stroke-linecap="round"/>
<path d="M926.5,412.4 L927.4,419.3" fill="none" stroke="#120a00" stroke-width="2.0" stroke-linejoin="round" stroke-linecap="round"/>
</g>
<rect x="62.0" y="199.5" width="1142.5" height="615.0" fill="none" stroke="#1a0e00" stroke-width="1.9"/>
</svg>
</div></body></html>
